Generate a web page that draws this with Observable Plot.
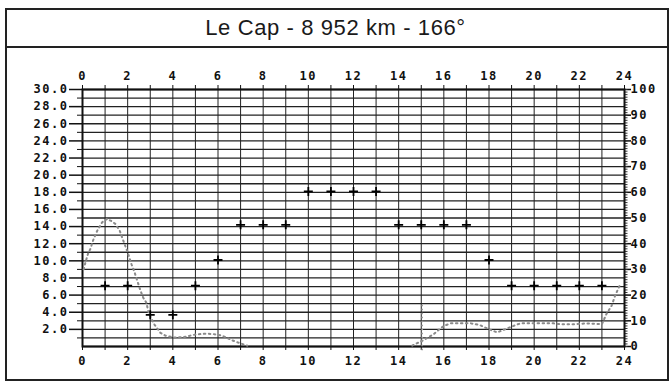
<!DOCTYPE html>
<html>
<head>
<meta charset="utf-8">
<script src="https://cdn.jsdelivr.net/npm/d3@7"></script>
<script src="https://cdn.jsdelivr.net/npm/@observablehq/plot@0.6"></script>
<style>
  body { margin: 0; background: #fff; }
  #wrap { position: relative; width: 671px; height: 382px; overflow: hidden; background: #fff; }
  #frame { position: absolute; left: 5px; top: 8px; width: 660px; height: 369px; border: 2px solid #222; pointer-events: none; }
  #band { position: absolute; left: 5px; top: 46px; width: 664px; height: 0; border-top: 2px solid #222; pointer-events: none; }
  #title { position: absolute; left: 0; top: 9px; width: 671px; height: 38px; line-height: 38px; text-align: center;
           font-family: "Liberation Sans", Arial, sans-serif; font-size: 22px; letter-spacing: 0.6px; color: #1a1a1a; }
  #chart { position: absolute; left: 0; top: 48px; }
</style>
</head>
<body>
<div id="wrap">
  <div id="title">Le Cap - 8 952 km - 166°</div>
  <div id="chart"></div>
  <div id="band"></div>
  <div id="frame"></div>
</div>
<script>
// ---- data ----
const titleText = "Le Cap - 8 952 km - 166°";

// band markers (+) : hour and frequency (MHz, left scale)
const bandHours = [1, 2, 3, 4, 5, 6, 7, 8, 9, 10, 11, 12, 13, 14, 15, 16, 17, 18, 19, 20, 21, 22, 23];
const bandFreqs = [7.1, 7.1, 3.7, 3.7, 7.1, 10.1, 14.2, 14.2, 14.2, 18.1, 18.1, 18.1, 18.1, 14.2, 14.2, 14.2, 14.2, 10.1, 7.1, 7.1, 7.1, 7.1, 7.1];

// dotted curve, first segment (night/morning)
const curve1Hours = [0.05, 0.13, 0.24, 0.35, 0.47, 0.65, 0.87, 1.09, 1.31, 1.46, 1.65, 1.8, 2.0, 2.17, 2.3, 2.57, 2.69, 2.83, 2.94, 3.2, 3.45, 3.68, 4.05, 4.5, 5.0, 5.45, 5.8, 6.2, 6.6, 6.9, 7.3];
const curve1Vals  = [9.0, 9.8, 10.8, 11.4, 12.4, 13.5, 14.5, 14.9, 14.6, 14.3, 13.5, 12.4, 11.0, 9.6, 8.7, 6.5, 5.7, 5.1, 3.8, 2.5, 1.6, 1.25, 1.05, 1.1, 1.4, 1.5, 1.45, 1.25, 0.75, 0.45, 0.1];

// dotted curve, second segment (afternoon/evening)
const curve2Hours = [14.6, 14.75, 15.04, 15.27, 15.56, 15.8, 16.0, 16.3, 17.2, 17.6, 18.0, 18.36, 18.8, 19.17, 19.4, 20.0, 20.87, 21.14, 21.7, 22.35, 23.0, 23.2, 23.43, 23.58, 23.73, 23.8];
const curve2Vals  = [0.1, 0.3, 0.67, 1.0, 1.45, 2.0, 2.4, 2.7, 2.7, 2.5, 2.0, 1.65, 2.1, 2.5, 2.7, 2.7, 2.7, 2.6, 2.6, 2.7, 2.6, 3.8, 4.76, 5.9, 6.8, 7.2];

// vertical dotted marker
const markerHours = [15.04];
const markerLow = [-0.5];
const markerHigh = [5.0];

// axes
const leftTicks = [2, 4, 6, 8, 10, 12, 14, 16, 18, 20, 22, 24, 26, 28, 30];
const hourLabels = [0, 2, 4, 6, 8, 10, 12, 14, 16, 18, 20, 22, 24];
const rightTicks = [0, 10, 20, 30, 40, 50, 60, 70, 80, 90, 100];
const leftMax = 30, rightMax = 100;

// ---- build ----
const toLeft = v => v * leftMax / rightMax;
const bands = bandHours.map((h, i) => ({hour: h, freq: bandFreqs[i]}));
const curve = [
  ...curve1Hours.map((h, i) => ({hour: h, v: curve1Vals[i], seg: 1})),
  ...curve2Hours.map((h, i) => ({hour: h, v: curve2Vals[i], seg: 2}))
];
const markers = markerHours.map((h, i) => ({hour: h, lo: markerLow[i], hi: markerHigh[i]}));
const allHours = d3.range(0, 25);
const allUnits = d3.range(0, leftMax + 1);
const oddUnits = allUnits.filter(d => d % 2 === 1);
const rightMinor = d3.range(0, rightMax + 1).map(toLeft);
const blank = () => "";

const chart = Plot.plot({
  width: 671,
  height: 334,
  marginLeft: 82,
  marginRight: 47,
  marginTop: 41,
  marginBottom: 36,
  x: {domain: [0, 24]},
  y: {domain: [0, leftMax]},
  style: {
    background: "transparent",
    fontFamily: "'DejaVu Sans Mono', monospace",
    fontSize: "12px",
    fontWeight: "bold",
    letterSpacing: "1.5px",
    color: "#111",
    overflow: "visible"
  },
  marks: [
    Plot.gridY(allUnits, {stroke: "#222", strokeOpacity: 1, strokeWidth: 1.3}),
    Plot.gridX(allHours, {stroke: "#222", strokeOpacity: 1, strokeWidth: 1}),
    // left axis
    Plot.axisY(leftTicks, {anchor: "left", tickSize: 13, tickPadding: 1, tickFormat: d => d.toFixed(1), stroke: "#111", strokeWidth: 1.5, label: null}),
    Plot.axisY(oddUnits, {anchor: "left", tickSize: 5, tickFormat: blank, stroke: "#111", label: null}),
    // top axis
    Plot.axisX(hourLabels, {anchor: "top", tickSize: 0, tickPadding: 10, label: null}),
    Plot.axisX(allHours, {anchor: "top", tickSize: 5, tickFormat: blank, stroke: "#111", label: null}),
    // bottom axis
    Plot.axisX(hourLabels, {anchor: "bottom", tickSize: 0, tickPadding: 10, label: null}),
    Plot.axisX(allHours, {anchor: "bottom", tickSize: 4, tickFormat: blank, stroke: "#111", label: null}),
    // right axis (0-100)
    Plot.axisY(rightTicks.map(toLeft), {anchor: "right", tickSize: 6, tickPadding: 0, tickFormat: d => String(Math.round(d * rightMax / leftMax)), stroke: "#111", strokeWidth: 1.5, label: null}),
    Plot.axisY(rightMinor, {anchor: "right", tickSize: 2.5, tickFormat: blank, stroke: "#333", label: null}),
    // frame
    Plot.frame({stroke: "#111", strokeWidth: 2}),
    // dotted curve
    Plot.line(curve, {x: "hour", y: "v", z: "seg", stroke: "#8a8a8a", strokeWidth: 2, strokeDasharray: "1.5,3.5", curve: "linear"}),
    Plot.ruleX(markers, {x: "hour", y1: "lo", y2: "hi", stroke: "#9a9a9a", strokeWidth: 1.6, strokeDasharray: "1.5,2.5"}),
    // band markers
    Plot.dot(bands, {x: "hour", y: "freq", symbol: "plus", r: 3, stroke: "#000", strokeWidth: 1.8})
  ]
});
document.getElementById("chart").appendChild(chart);
</script>
</body>
</html>
